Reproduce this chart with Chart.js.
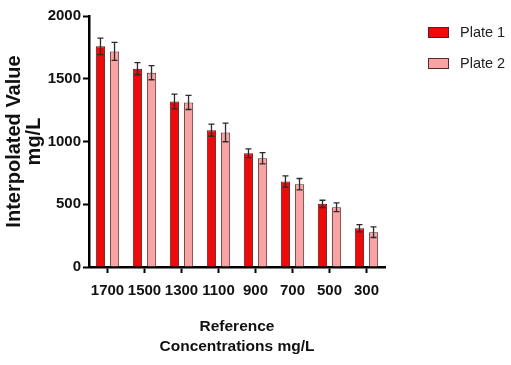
<!DOCTYPE html>
<html>
<head>
<meta charset="utf-8">
<script src="https://cdn.jsdelivr.net/npm/chart.js@4.4.0/dist/chart.umd.min.js"></script>
<style>
  html, body { margin: 0; padding: 0; background: #fff; }
  #wrap { width: 511px; height: 365px; }
</style>
</head>
<body>
<div id="wrap"><canvas id="myChart" width="511" height="365"></canvas></div>
<script>
'use strict';
// reference concentrations (mg/L)
var categories = ['1700', '1500', '1300', '1100', '900', '700', '500', '300'];
var plate1 = [1758, 1580, 1319, 1090, 907, 681, 503, 309];
var plate1Err = [65, 48, 59, 48, 35, 45, 29, 29];
var plate2 = [1718, 1548, 1311, 1072, 867, 660, 476, 277];
var plate2Err = [72, 56, 56, 74, 45, 45, 35, 42];
var yTicks = [0, 500, 1000, 1500, 2000];

var errors = [plate1Err, plate2Err];

// error bars, drawn through the y scale
var errorBars = {
    id: 'errorBars',
    afterDatasetsDraw: function(chart) {
        var ctx = chart.ctx;
        var y = chart.scales.y;
        ctx.save();
        ctx.strokeStyle = '#2a2a2a';
        ctx.lineWidth = 1.3;
        chart.data.datasets.forEach(function(ds, i) {
            var meta = chart.getDatasetMeta(i);
            meta.data.forEach(function(bar, j) {
                var v = ds.data[j], e = errors[i][j];
                var top = y.getPixelForValue(v + e);
                var bot = y.getPixelForValue(v - e);
                var cap = 3;
                ctx.beginPath();
                ctx.moveTo(bar.x, top); ctx.lineTo(bar.x, bot);
                ctx.moveTo(bar.x - cap, top); ctx.lineTo(bar.x + cap, top);
                ctx.moveTo(bar.x - cap, bot); ctx.lineTo(bar.x + cap, bot);
                ctx.stroke();
            });
        });
        ctx.restore();
    }
};

// legend on the right, like the original figure
var sideLegend = {
    id: 'sideLegend',
    afterDraw: function(chart) {
        var ctx = chart.ctx;
        ctx.save();
        ctx.font = '14.5px "Liberation Sans", Arial, sans-serif';
        ctx.textBaseline = 'middle';
        chart.data.datasets.forEach(function(ds, i) {
            var by = 27 + i * 31;
            ctx.fillStyle = ds.backgroundColor;
            ctx.fillRect(428, by, 20, 10);
            ctx.strokeStyle = ds.borderColor;
            ctx.lineWidth = 1;
            ctx.strokeRect(428.5, by + 0.5, 20, 10);
            ctx.fillStyle = '#222';
            ctx.fillText(ds.label, 460, by + 5.5);
        });
        ctx.restore();
    }
};

var ctx = document.getElementById('myChart').getContext('2d');
var myChart = new Chart(ctx, {
    type: 'bar',
    data: {
        labels: categories,
        datasets: [{
            label: 'Plate 1',
            data: plate1,
            backgroundColor: '#ee0a0a',
            borderColor: '#5a1c1c',
            borderWidth: 1,
            categoryPercentage: 0.76,
            barPercentage: 0.66
        }, {
            label: 'Plate 2',
            data: plate2,
            backgroundColor: '#f8a4a4',
            borderColor: '#5a2a2a',
            borderWidth: 1,
            categoryPercentage: 0.76,
            barPercentage: 0.66
        }]
    },
    options: {
        responsive: false,
        animation: false,
        layout: { padding: { top: 16, right: 126, bottom: 0, left: 0 } },
        plugins: {
            legend: { display: false },
            tooltip: { enabled: false }
        },
        scales: {
            x: {
                grid: {
                    offset: false,
                    drawOnChartArea: false,
                    tickLength: 6,
                    tickWidth: 2,
                    tickColor: '#000'
                },
                border: { color: '#000', width: 2.5 },
                ticks: {
                    autoSkip: false,
                    maxRotation: 0,
                    padding: 9,
                    color: '#111',
                    font: { family: '"Liberation Sans", Arial, sans-serif', size: 15, weight: 'bold' }
                },
                title: {
                    display: true,
                    text: ['Reference', 'Concentrations mg/L'],
                    color: '#111',
                    padding: { top: 0, bottom: 8 },
                    font: { family: '"Liberation Sans", Arial, sans-serif', size: 15.5, weight: 'bold', lineHeight: 1.3 }
                },
                afterFit: function(s) { s.height = 98; }
            },
            y: {
                min: 0,
                max: 2000,
                afterBuildTicks: function(s) {
                    s.ticks = yTicks.map(function(v) { return { value: v }; });
                },
                grid: {
                    drawOnChartArea: false,
                    tickLength: 6,
                    tickWidth: 2,
                    tickColor: '#000'
                },
                border: { color: '#000', width: 2.5 },
                ticks: {
                    padding: 2,
                    color: '#111',
                    callback: function(v) { return String(v); },
                    font: { family: '"Liberation Sans", Arial, sans-serif', size: 15, weight: 'bold' }
                },
                title: {
                    display: true,
                    text: ['Interpolated Value', 'mg/L'],
                    color: '#111',
                    padding: { top: 4, bottom: 0 },
                    font: { family: '"Liberation Sans", Arial, sans-serif', size: 20, weight: 'bold', lineHeight: 1.0 }
                },
                afterFit: function(s) { s.width = 89; }
            }
        }
    },
    plugins: [errorBars, sideLegend]
});
</script>
</body>
</html>
